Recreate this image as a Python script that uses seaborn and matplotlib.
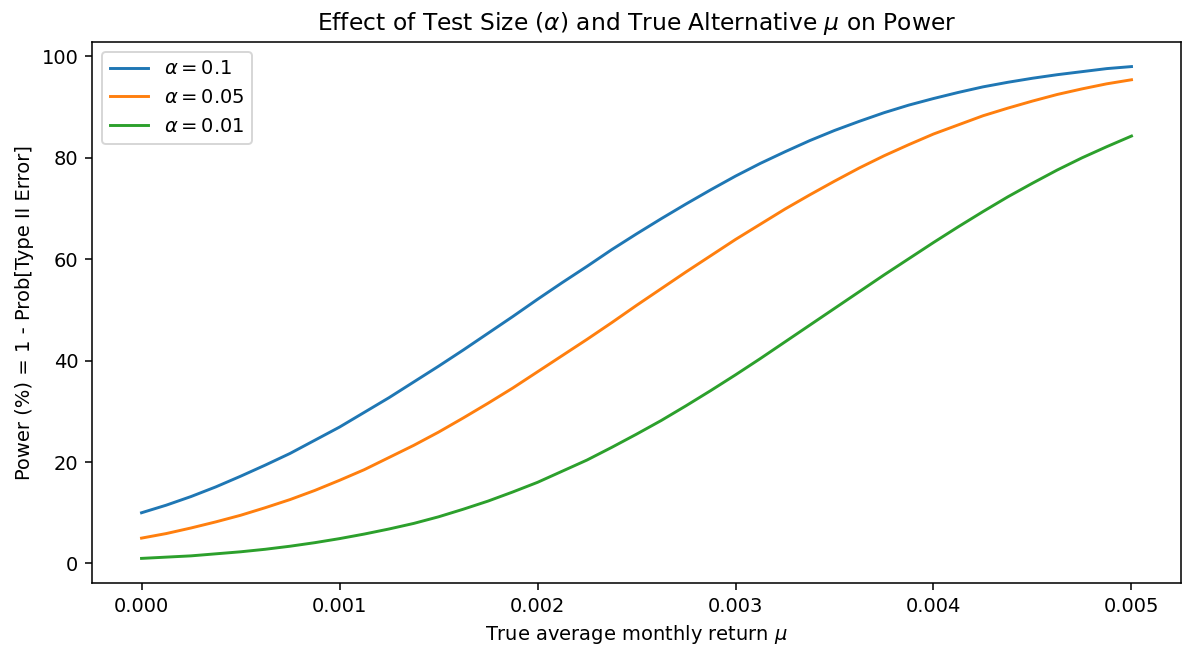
import numpy as np
import pandas as pd
import matplotlib
matplotlib.use("Agg")
import matplotlib.pyplot as plt
import seaborn as sns

# True average monthly return (x grid, step 0.000125)
mu = [0.0, 0.000125, 0.00025, 0.000375, 0.0005, 0.000625, 0.00075, 0.000875,
      0.001, 0.001125, 0.00125, 0.001375, 0.0015, 0.001625, 0.00175, 0.001875,
      0.002, 0.002125, 0.00225, 0.002375, 0.0025, 0.002625, 0.00275, 0.002875,
      0.003, 0.003125, 0.00325, 0.003375, 0.0035, 0.003625, 0.00375, 0.003875,
      0.004, 0.004125, 0.00425, 0.004375, 0.0045, 0.004625, 0.00475, 0.004875,
      0.005]

# Power (%) for each test size
power_a10 = [10.0, 11.5, 13.2, 15.1, 17.2, 19.4, 21.7, 24.3, 26.9, 29.8, 32.7,
             35.8, 38.9, 42.1, 45.4, 48.7, 52.1, 55.4, 58.6, 61.9, 65.0, 68.0,
             70.9, 73.7, 76.4, 78.9, 81.2, 83.4, 85.4, 87.2, 88.9, 90.4, 91.7,
             92.9, 94.0, 94.9, 95.7, 96.4, 97.0, 97.6, 98.0]
power_a05 = [5.0, 5.9, 7.0, 8.2, 9.5, 11.0, 12.6, 14.4, 16.4, 18.5, 20.9,
             23.3, 25.9, 28.7, 31.6, 34.6, 37.8, 41.0, 44.2, 47.5, 50.9, 54.2,
             57.5, 60.7, 63.9, 66.9, 69.9, 72.7, 75.4, 78.0, 80.4, 82.6, 84.7,
             86.5, 88.3, 89.8, 91.2, 92.5, 93.6, 94.6, 95.4]
power_a01 = [1.0, 1.25, 1.5, 1.9, 2.3, 2.8, 3.4, 4.1, 4.9, 5.8, 6.8,
             7.9, 9.2, 10.7, 12.3, 14.1, 16.0, 18.2, 20.4, 22.9, 25.5, 28.2,
             31.1, 34.1, 37.2, 40.4, 43.7, 47.0, 50.3, 53.6, 56.9, 60.1, 63.3,
             66.4, 69.4, 72.3, 75.0, 77.6, 80.0, 82.2, 84.3]

labels = [r"$\alpha = 0.1$", r"$\alpha = 0.05$", r"$\alpha = 0.01$"]
colors = ["#1f77b4", "#ff7f0e", "#2ca02c"]

df = pd.concat([
    pd.DataFrame({"mu": mu, "power": p, "size": lab})
    for p, lab in zip([power_a10, power_a05, power_a01], labels)
], ignore_index=True)

fig = plt.figure(figsize=(1183 / 140, 650 / 140), dpi=140)
ax = fig.add_axes([0.0778, 0.1031, 0.9205, 0.8323])

sns.lineplot(data=df, x="mu", y="power", hue="size", hue_order=labels,
             palette=colors, linewidth=1.5, ax=ax)

ax.set_title(r"Effect of Test Size ($\alpha$) and True Alternative $\mu$ on Power",
             fontsize=12)
ax.set_xlabel(r"True average monthly return $\mu$")
ax.set_ylabel("Power (%) = 1 - Prob[Type II Error]")
ax.set_xticks([0.0, 0.001, 0.002, 0.003, 0.004, 0.005])
ax.set_xticklabels(["0.000", "0.001", "0.002", "0.003", "0.004", "0.005"])
ax.legend(loc="upper left", title=None)

fig.savefig("out.png", dpi=140)
